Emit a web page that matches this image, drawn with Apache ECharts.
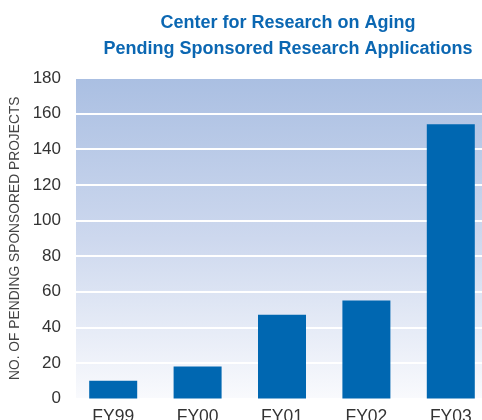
<!DOCTYPE html>
<html>
<head>
<meta charset="utf-8">
<script src="https://cdn.jsdelivr.net/npm/echarts@6/dist/echarts.min.js"></script>
<style>html,body{margin:0;padding:0;background:#fff;}#c{width:482px;height:420px;}</style>
</head>
<body>
<div id="c"></div>
<script>
var titleLines = ['Center for Research on Aging', 'Pending Sponsored Research Applications'];
var categories = ['FY99', 'FY00', 'FY01', 'FY02', 'FY03'];
var values = [10, 18, 47, 55, 154];
var yAxisName = 'NO. OF PENDING SPONSORED PROJECTS';
var yMin = 0, yMax = 180, yStep = 20;

var chart = echarts.init(document.getElementById('c'));
chart.setOption({
  animation: false,
  backgroundColor: '#ffffff',
  title: {
    text: titleLines.join('\n'),
    left: 283, top: 5, textAlign: 'center',
    textStyle: { fontFamily: "'Liberation Sans', Arial, sans-serif", fontWeight: 'bold', fontSize: 18, lineHeight: 26, color: '#0b67b2' }
  },
  graphic: [{
    type: 'rect', z: -100, silent: true,
    shape: { x: 76, y: 78, width: 406, height: 320.5 },
    style: { fill: new echarts.graphic.LinearGradient(0, 0, 0, 1, [
      { offset: 0, color: '#aabfe2' }, { offset: 0.5, color: '#cdd8ee' }, { offset: 1, color: '#f9fafd' }
    ]) }
  }],
  grid: { left: 71, right: -11, top: 78, bottom: 21.5, containLabel: false, outerBoundsMode: 'none' },
  xAxis: {
    type: 'category', data: categories,
    axisLine: { show: false }, axisTick: { show: false },
    axisLabel: { color: '#333', fontSize: 17.5, margin: 10, fontFamily: "'Liberation Sans', Arial, sans-serif" }
  },
  yAxis: {
    type: 'value', min: yMin, max: yMax, interval: yStep,
    name: yAxisName, nameLocation: 'middle', nameGap: 46, nameRotate: 90,
    nameTextStyle: { color: '#444', fontSize: 13.8, fontFamily: "'Liberation Sans', Arial, sans-serif" },
    axisLine: { show: false }, axisTick: { show: false },
    axisLabel: { color: '#333', fontSize: 17, margin: 10, fontFamily: "'Liberation Sans', Arial, sans-serif" },
    splitLine: { show: true, lineStyle: { color: '#ffffff', width: 2 } }
  },
  series: [{
    type: 'bar', data: values, barWidth: 48,
    itemStyle: { color: '#0067b1' }
  }]
});
</script>
</body>
</html>
